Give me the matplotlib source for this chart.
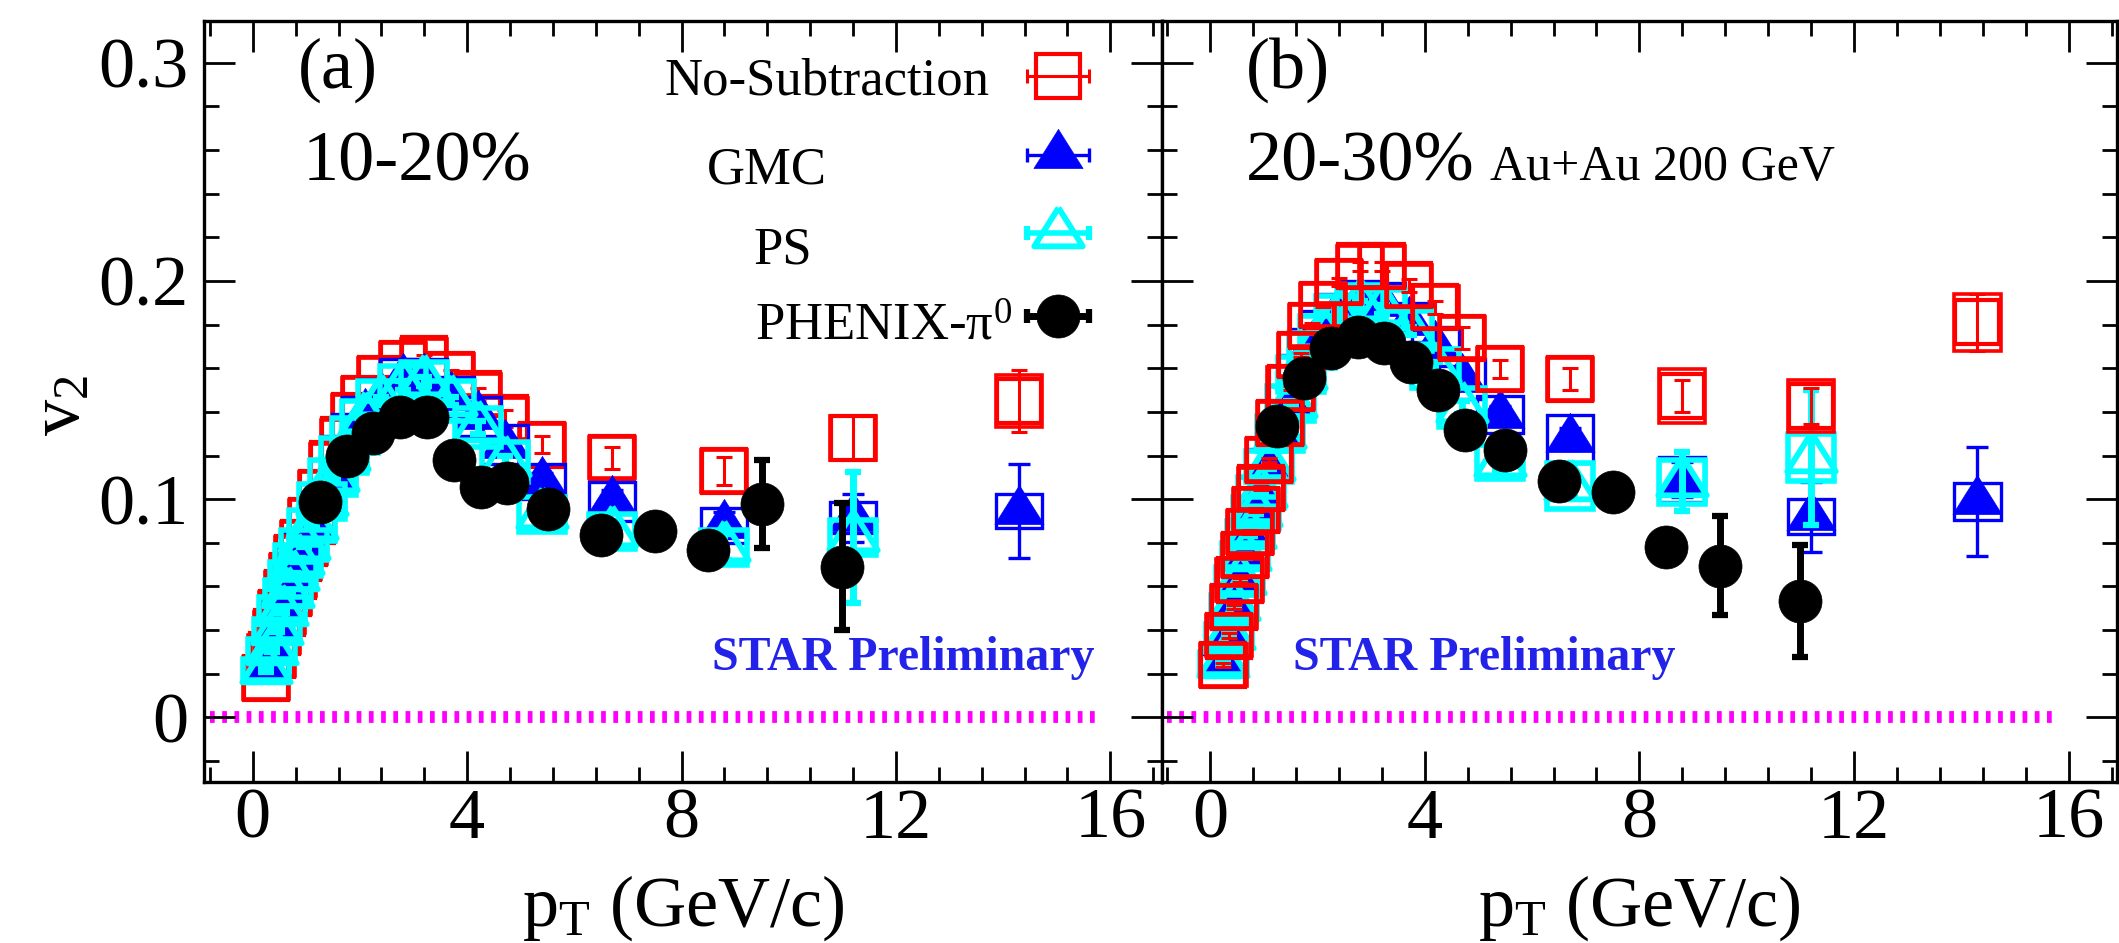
import matplotlib
matplotlib.use("Agg")
import matplotlib.pyplot as plt
import numpy as np
from matplotlib.patches import Rectangle
from matplotlib.ticker import MultipleLocator, FuncFormatter

plt.rcParams["font.family"] = ["Liberation Serif", "DejaVu Serif"]
plt.rcParams["mathtext.fontset"] = "custom"
plt.rcParams["mathtext.rm"] = "Liberation Serif"
plt.rcParams["mathtext.it"] = "Liberation Serif:italic"
plt.rcParams["mathtext.bf"] = "Liberation Serif:bold"
plt.rcParams["lines.scale_dashes"] = False

nan = np.nan

# STAR charged hadron pT bins (GeV/c), same in both panels
pt_star = [0.25, 0.35, 0.45, 0.55, 0.65, 0.75, 0.85, 0.95, 1.1, 1.3, 1.5, 1.7, 1.9,
           2.1, 2.4, 2.8, 3.2, 3.7, 4.2, 4.7, 5.4, 6.7, 8.8, 11.2, 14.3]
pt_phenix = [1.25, 1.75, 2.25, 2.75, 3.25, 3.75, 4.25, 4.75, 5.5, 6.5, 7.5, 8.5, 9.5, 11.0]

# ---- (a) 10-20% ----
nosub_a = [0.018, 0.0285, 0.039, 0.048, 0.057, 0.065, 0.073, 0.080, 0.090, 0.103, 0.116, 0.127,
           0.138, 0.146, 0.155, 0.162, 0.164, 0.157, 0.148, 0.137, 0.125, 0.119, 0.113, 0.128, 0.145]
nosub_a_stat = [0.001, 0.001, 0.001, 0.001, 0.001, 0.001, 0.001, 0.001, 0.001, 0.001, 0.001, 0.001,
                0.001, 0.001, 0.001, 0.002, 0.002, 0.002, 0.003, 0.004, 0.004, 0.005, 0.0065, 0.010, 0.014]
nosub_a_sys = [0.0095, 0.0095, 0.0095, 0.0095, 0.0095, 0.0095, 0.0095, 0.0095, 0.0095, 0.0095, 0.0095, 0.0095,
               0.0095, 0.0095, 0.0095, 0.0095, 0.0095, 0.0095, 0.0095, 0.0095, 0.0095, 0.0095, 0.0095, 0.010, 0.012]
gmc_a = [0.022, 0.031, 0.040, 0.049, 0.057, 0.065, 0.072, 0.079, 0.088, 0.100, 0.111, 0.121,
         0.131, 0.139, 0.147, 0.155, 0.155, 0.147, 0.138, 0.125, 0.108, 0.099, 0.088, 0.0915, 0.0946]
gmc_a_stat = [0.001, 0.001, 0.001, 0.001, 0.001, 0.001, 0.001, 0.001, 0.001, 0.001, 0.001, 0.001,
              0.001, 0.001, 0.002, 0.002, 0.002, 0.002, 0.003, 0.003, 0.004, 0.005, 0.006, 0.011, 0.0215]
gmc_a_sys = [0.004, 0.004, 0.005, 0.005, 0.005, 0.006, 0.006, 0.006, 0.007, 0.007, 0.007, 0.008,
             0.008, 0.008, 0.008, 0.009, 0.009, 0.009, 0.009, 0.009, 0.008, 0.009, 0.008, 0.007, 0.008]
ps_a = [0.022, 0.031, 0.040, 0.049, 0.057, 0.065, 0.072, 0.079, 0.088, 0.099, 0.110, 0.120,
        0.129, 0.137, 0.145, 0.152, 0.154, 0.145, 0.133, 0.117, 0.093, 0.085, 0.078, 0.0825, nan]
ps_a_stat = [0.001, 0.001, 0.001, 0.001, 0.001, 0.001, 0.001, 0.001, 0.001, 0.001, 0.001, 0.001,
             0.001, 0.001, 0.002, 0.002, 0.002, 0.002, 0.003, 0.003, 0.004, 0.005, 0.006, 0.030, nan]
ps_a_sys = [0.005, 0.005, 0.005, 0.006, 0.006, 0.006, 0.007, 0.007, 0.007, 0.008, 0.008, 0.008,
            0.008, 0.008, 0.009, 0.009, 0.009, 0.009, 0.009, 0.009, 0.008, 0.008, 0.008, 0.008, nan]
phenix_a = [0.0985, 0.1196, 0.1301, 0.1375, 0.1375, 0.1181, 0.1055, 0.1073, 0.0953, 0.0836,
            0.0853, 0.0765, 0.0978, 0.0691]
phenix_a_err = [0.003, 0.003, 0.003, 0.003, 0.004, 0.004, 0.005, 0.005, 0.005, 0.006,
                0.006, 0.007, 0.020, 0.029]

# ---- (b) 20-30% ----
nosub_b = [0.024, 0.0375, 0.0505, 0.063, 0.0744, 0.085, 0.095, 0.105, 0.118, 0.135, 0.151, 0.166,
           0.1795, 0.189, 0.1995, 0.2067, 0.2067, 0.198, 0.188, 0.174, 0.1596, 0.155, 0.1474, 0.1428, 0.181]
nosub_b_stat = [0.001, 0.001, 0.001, 0.001, 0.001, 0.001, 0.001, 0.001, 0.001, 0.001, 0.001, 0.001,
                0.001, 0.001, 0.002, 0.002, 0.002, 0.003, 0.003, 0.005, 0.004, 0.005, 0.0073, 0.0082, 0.013]
nosub_b_sys = [0.0095, 0.0095, 0.0095, 0.0095, 0.0095, 0.0095, 0.0095, 0.0095, 0.0095, 0.0095, 0.0095, 0.0095,
               0.0095, 0.0095, 0.0095, 0.0095, 0.0095, 0.0095, 0.0095, 0.0095, 0.0095, 0.0095, 0.0124, 0.012, 0.013]
gmc_b = [0.025, 0.038, 0.051, 0.063, 0.074, 0.085, 0.095, 0.104, 0.116, 0.131, 0.145, 0.158,
         0.170, 0.178, 0.186, 0.191, 0.190, 0.181, 0.170, 0.155, 0.1387, 0.1274, 0.109, 0.0919, 0.099]
gmc_b_stat = [0.001, 0.001, 0.001, 0.001, 0.001, 0.001, 0.001, 0.001, 0.001, 0.001, 0.001, 0.001,
              0.001, 0.001, 0.002, 0.002, 0.002, 0.002, 0.003, 0.003, 0.004, 0.005, 0.008, 0.016, 0.025]
gmc_b_sys = [0.004, 0.004, 0.005, 0.005, 0.005, 0.006, 0.006, 0.006, 0.007, 0.007, 0.007, 0.008,
             0.008, 0.008, 0.008, 0.009, 0.009, 0.009, 0.009, 0.009, 0.0085, 0.011, 0.0103, 0.008, 0.0085]
ps_b = [0.025, 0.038, 0.051, 0.063, 0.074, 0.084, 0.094, 0.103, 0.115, 0.130, 0.144, 0.157,
        0.168, 0.176, 0.184, 0.189, 0.187, 0.177, 0.160, 0.142, 0.117, 0.106, 0.108, 0.119, nan]
ps_b_stat = [0.001, 0.001, 0.001, 0.001, 0.001, 0.001, 0.001, 0.001, 0.001, 0.001, 0.001, 0.001,
             0.001, 0.001, 0.002, 0.002, 0.002, 0.002, 0.003, 0.003, 0.004, 0.005, 0.0135, 0.031, nan]
ps_b_sys = [0.005, 0.005, 0.005, 0.006, 0.006, 0.006, 0.007, 0.007, 0.007, 0.008, 0.008, 0.008,
            0.008, 0.008, 0.009, 0.009, 0.009, 0.009, 0.009, 0.009, 0.0076, 0.0105, 0.010, 0.0107, nan]
phenix_b = [0.1334, 0.1554, 0.1693, 0.1744, 0.1715, 0.1628, 0.1498, 0.1315, 0.1227, 0.1085,
            0.1032, 0.0783, 0.0696, 0.0534]
phenix_b_err = [0.003, 0.003, 0.003, 0.003, 0.004, 0.004, 0.005, 0.005, 0.005, 0.006,
                0.006, 0.007, 0.0225, 0.0257]

zero_line_x = [-0.8, 15.8]
box_w = 0.86  # GeV/c, width of systematic boxes

# ROOT-like triangle with marker centre at the centroid
TRI = [(0.0, 1.0), (-0.943, -0.5), (0.943, -0.5), (0.0, 1.0)]

STYLE = {
    "nosub": dict(color="#ff0000", marker="s", ms=31, mfc="none", mew=3.0,
                  elw=2.2, cap=6, capthick=2.2, box_lw=2.6),
    "gmc": dict(color="#0000ff", marker=TRI, ms=37.5, mfc="#0000ff", mew=0.5,
                elw=2.4, cap=8, capthick=2.4, box_lw=2.4),
    "ps": dict(color="#00ffff", marker=TRI, ms=37, mfc="none", mew=4.2,
               elw=5.0, cap=6, capthick=4.5, box_lw=4.0),
    "phenix": dict(color="#000000", marker="o", ms=31, mfc="#000000", mew=0.5,
                   elw=5.0, cap=6, capthick=4.5, box_lw=0),
}


def draw_series(ax, x, y, stat, sys, st, z):
    x = np.asarray(x, float); y = np.asarray(y, float)
    if sys is not None:
        for xi, yi, si in zip(x, y, sys):
            if np.isnan(yi):
                continue
            ax.add_patch(Rectangle((xi - box_w / 2, yi - si), box_w, 2 * si, fill=False,
                                   ec=st["color"], lw=st["box_lw"], zorder=z))
    ax.errorbar(x, y, yerr=stat, fmt="none", ecolor=st["color"], elinewidth=st["elw"],
                capsize=st["cap"], capthick=st["capthick"], zorder=z + 0.1)
    ax.plot(x, y, ls="none", marker=st["marker"], ms=st["ms"], mfc=st["mfc"],
            mec=st["color"], mew=st["mew"], zorder=z + 0.2)


def setup_axes(ax, xlim, ylabels):
    ax.set_xlim(*xlim)
    ax.set_ylim(-0.0297, 0.3192)
    ax.xaxis.set_major_locator(MultipleLocator(4))
    ax.xaxis.set_minor_locator(MultipleLocator(0.8))
    ax.yaxis.set_major_locator(MultipleLocator(0.1))
    ax.yaxis.set_minor_locator(MultipleLocator(0.02))
    ax.yaxis.set_major_formatter(FuncFormatter(lambda v, p: "0" if abs(v) < 1e-9 else f"{v:.1f}"))
    ax.tick_params(which="both", direction="in", top=True, right=True, width=2.0,
                   labelsize=52, labelleft=ylabels)
    ax.tick_params(which="major", length=22.3)
    ax.tick_params(which="minor", length=10.5)
    ax.tick_params(axis="x", pad=4)
    ax.tick_params(axis="y", pad=11)
    for s in ax.spines.values():
        s.set_linewidth(2.4)
    ax.plot(zero_line_x, [0, 0], color="#ff00ff", lw=8.5, dashes=(3.4, 5.4),
            solid_capstyle="butt", dash_capstyle="butt", zorder=1)
    ax.text(0.5, -0.188, r"p$_{\mathrm{T}}$ (GeV/c)", transform=ax.transAxes,
            ha="center", va="baseline", fontsize=52)


fig = plt.figure(figsize=(21.19, 9.43), dpi=100)
ax1 = fig.add_axes([0.09627, 0.17041, 0.45223, 0.80764])
ax2 = fig.add_axes([0.54850, 0.17041, 0.45056, 0.80764])
setup_axes(ax1, (-0.91, 16.97), True)
setup_axes(ax2, (-0.89, 16.90), False)

# left panel: cyan on top of red; right panel: red on top
draw_series(ax1, pt_star, nosub_a, nosub_a_stat, nosub_a_sys, STYLE["nosub"], 2)
draw_series(ax1, pt_star, gmc_a, gmc_a_stat, gmc_a_sys, STYLE["gmc"], 3)
draw_series(ax1, pt_star, ps_a, ps_a_stat, ps_a_sys, STYLE["ps"], 4)
draw_series(ax1, pt_phenix, phenix_a, phenix_a_err, None, STYLE["phenix"], 6)

draw_series(ax2, pt_star, gmc_b, gmc_b_stat, gmc_b_sys, STYLE["gmc"], 2)
draw_series(ax2, pt_star, ps_b, ps_b_stat, ps_b_sys, STYLE["ps"], 3)
draw_series(ax2, pt_star, nosub_b, nosub_b_stat, nosub_b_sys, STYLE["nosub"], 4)
draw_series(ax2, pt_phenix, phenix_b, phenix_b_err, None, STYLE["phenix"], 6)

fig.text(0.029, 0.57, r"v$_{2}$", rotation=90, ha="center", va="center", fontsize=52)

# panel labels
ax1.text(0.098, 0.9116, "(a)", transform=ax1.transAxes, fontsize=52, va="baseline")
ax1.text(0.103, 0.7908, "10-20%", transform=ax1.transAxes, fontsize=52, va="baseline")
ax2.text(0.088, 0.9116, "(b)", transform=ax2.transAxes, fontsize=52, va="baseline")
ax2.text(0.088, 0.7908, "20-30%", transform=ax2.transAxes, fontsize=52, va="baseline")
ax2.text(0.343, 0.7908, "Au+Au 200 GeV", transform=ax2.transAxes, fontsize=36, va="baseline")
for ax, x0 in [(ax1, 0.5298), (ax2, 0.1365)]:
    ax.text(x0, 0.1475, "STAR Preliminary", transform=ax.transAxes, fontsize=34.5,
            fontweight="bold", color="#2222e8", va="baseline")

# hand-placed legend in panel (a): text left of the symbol
legend_items = [
    ("No-Subtraction", "nosub", 0.9277, 0.8192, 0.9037),
    ("GMC", "gmc", 0.8236, 0.6501, 0.7863),
    ("PS", "ps", 0.7212, 0.6344, 0.6813),
    (r"PHENIX-π$^{0}$", "phenix", 0.6122, 0.8432, 0.5808),
]
xl0, xl1 = ax1.get_xlim()
yl0, yl1 = ax1.get_ylim()
for label, key, fy, tx, ty in legend_items:
    st = STYLE[key]
    xs = xl0 + 0.8912 * (xl1 - xl0)
    ys = yl0 + fy * (yl1 - yl0)
    ax1.errorbar([xs], [ys], xerr=[0.58], fmt="none", ecolor=st["color"],
                 elinewidth=st["elw"] if key != "ps" else 4.0, capsize=5,
                 capthick=st["capthick"], zorder=8, clip_on=False)
    ax1.plot([xs], [ys], ls="none", marker=st["marker"], ms=st["ms"], mfc=st["mfc"],
             mec=st["color"], mew=st["mew"], zorder=9, clip_on=False)
    ax1.text(tx, ty, label, transform=ax1.transAxes, fontsize=38, ha="right", va="baseline")

fig.savefig("out.png", dpi=100)
